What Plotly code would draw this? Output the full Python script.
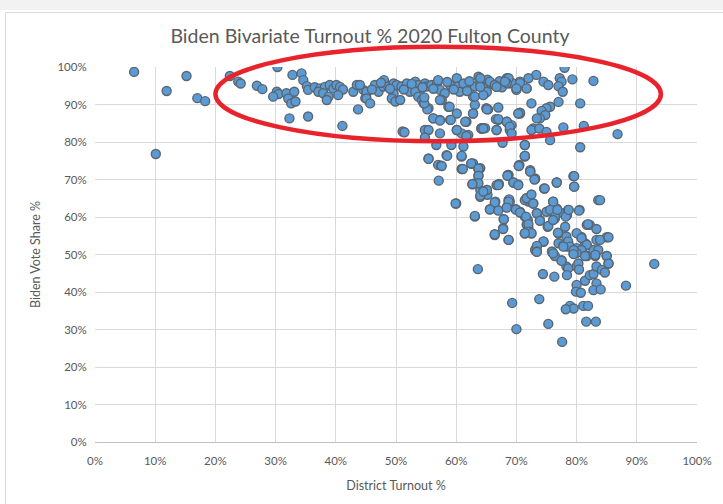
import plotly.graph_objects as go

# ---- Data (District Turnout %, Biden Vote Share %) ----
turnout_left = [6.5,10.1,11.9,15.2,17.0,18.3,22.4,23.8,24.2,26.9,27.8,30.3,32.8,34.3,34.6,35.2,35.4,
                30.2,30.5,29.6,31.8,33.1,32.1,32.6,33.3,32.3,35.4,36.5,37.4,38.2,39.0,39.6,40.1,40.7,41.2,
                37.1,37.9,38.8,38.5,40.4,42.9,43.5,44.6,45.1,44.9,41.1,43.7]
share_left = [98.7,76.8,93.6,97.6,91.7,90.9,97.6,96.1,95.6,95.0,94.1,100.0,97.9,98.3,96.5,94.9,93.9,
              93.4,92.8,92.1,93.0,93.4,91.6,90.3,90.8,86.3,86.8,94.6,94.3,94.7,95.2,94.3,95.2,94.7,94.0,
              93.4,93.0,92.1,91.2,92.5,93.4,95.2,93.9,93.0,91.7,84.3,88.7]

turnout_band = [44.0,45.1,46.5,47.1,48.0,47.9,48.7,49.6,49.6,50.1,50.9,51.8,52.3,53.2,53.7,54.0,54.8,55.1,
                55.9,56.8,57.0,57.3,58.1,59.0,60.1,60.3,60.6,62.6,63.1,63.7,64.0,64.8,65.6,66.4,66.7,68.4,
                68.7,69.5,70.0,70.6,71.7,45.1,45.7,49.3,49.9,50.7,53.2,53.7,54.3,54.6,55.4,57.6,58.7,60.1,
                62.8,63.1,62.8,65.0,56.2,57.3,59.0,61.7,64.2,67.0,68.4,69.2,70.6,51.1,54.8,57.3,60.1,60.9,
                62.0,66.7,68.9,46.0,47.5,49.0,51.3,52.6,54.4,56.2,58.5,59.6,61.2,61.8,62.2,64.5,65.2,67.2,67.6]
share_band = [95.2,93.4,95.2,93.4,96.5,94.8,94.8,95.6,93.0,95.2,94.8,95.6,93.4,96.1,95.2,93.9,95.6,94.8,
              95.2,95.6,96.5,93.9,93.0,95.2,97.0,94.8,93.4,94.8,94.8,97.4,95.6,93.0,95.6,95.2,94.8,97.0,
              95.6,95.6,93.9,96.1,94.3,91.6,90.3,91.6,90.8,91.2,93.4,92.1,91.2,90.3,89.0,91.2,89.4,87.6,
              92.1,89.9,87.6,89.0,86.3,85.9,85.9,85.4,83.6,85.9,85.4,84.5,87.6,82.8,83.2,82.3,83.2,82.3,
              81.9,83.2,83.2,94.0,95.8,94.2,94.0,95.5,94.6,94.2,96.0,94.0,95.6,93.6,96.2,94.4,96.6,96.2,94.6]

turnout_mid = [51.4,55.4,56.2,57.3,55.2,54.7,54.7,57.3,58.9,59.1,60.1,61.7,61.5,62.8,63.1,64.2,64.8,66.6,
               67.0,65.3,55.4,58.4,57.0,60.9,61.2,62.8,59.2,56.7,54.8]
share_mid = [82.6,83.2,86.3,85.7,88.7,90.3,91.9,91.2,89.4,85.9,83.2,81.6,85.4,87.6,92.1,83.7,83.7,86.1,
             89.2,88.7,75.6,76.5,73.9,76.1,78.8,74.3,79.2,79.2,81.2]

turnout_right = [78.0,82.8,79.3,77.2,77.5,77.0,77.7,73.3,72.0,74.5,75.3,70.6,71.7,70.0,68.7,68.4,68.1,65.6,
                 66.4,66.7,65.1,64.5,64.0,64.0,80.6,77.0,75.6,75.0,74.2,74.8,73.9,72.5,70.6,70.3,65.1,73.4,
                 72.8,72.5,73.8,75.0,77.8,81.2,86.8,67.0,68.4,68.9,69.2,66.7,64.2,64.5,75.6,80.6,71.4,71.4,
                 70.5,72.3,68.7,73.1,79.5,64.0,67.7]
share_right = [99.8,96.3,96.7,97.0,96.1,94.9,93.4,97.9,97.0,96.1,95.2,95.7,94.3,94.3,97.0,95.7,96.1,96.1,
               95.2,94.7,93.4,92.5,97.0,94.7,90.3,90.7,89.4,89.0,88.3,87.2,86.3,90.3,87.8,87.6,88.7,86.3,
               83.6,83.2,83.6,82.7,83.9,84.3,82.1,86.1,85.4,84.1,82.3,83.2,83.6,83.6,80.5,78.6,79.2,76.1,
               73.9,72.5,71.2,70.3,70.9,73.0,79.8]

turnout_slope = [55.4,57.5,57.1,60.0,63.1,60.9,62.5,63.7,63.7,63.4,62.7,64.0,64.0,65.1,65.2,66.5,65.6,66.9,
                 66.7,67.1,68.6,69.5,70.3,70.4,71.4,71.4,72.3,73.1,74.6,76.7,79.5,79.6,83.6,68.7,68.9,68.4,
                 69.9,70.6,71.7,72.0,72.8,71.4,71.9,71.7,72.0,72.5,71.4,73.4,73.9,75.0,75.9,76.1,76.7,77.8,
                 78.4,78.6,80.5,81.7,82.2,80.8,81.4,83.3,74.5,73.4,73.1,76.1,77.0,77.8,78.4,80.0,79.5,81.1,
                 82.8,75.2,76.4,77.0,66.4,67.8,67.9,68.7]
share_slope = [75.5,73.7,69.7,63.6,60.1,72.8,74.2,72.8,71.0,69.2,68.7,67.2,65.4,67.2,65.9,64.1,62.1,61.9,
               68.5,68.8,71.2,69.2,68.7,73.7,76.3,79.2,72.1,70.1,67.6,69.2,70.9,68.1,64.5,64.5,64.1,62.6,
               62.1,61.4,65.0,64.1,63.6,60.1,59.2,58.0,57.0,55.6,55.6,61.0,59.2,61.4,61.9,64.1,62.3,61.0,
               60.5,61.9,61.9,57.9,57.9,54.7,53.0,53.9,53.4,52.1,51.2,50.3,53.0,52.5,52.1,51.7,50.3,50.3,
               51.2,57.4,59.6,55.6,55.2,57.0,59.4,53.9]

turnout_fill = [58.5,60.9,57.6,61.1,62.5,63.7,63.7,63.7,62.7,71.4,70.4,72.3,73.0,68.5,69.5,70.3,74.7,76.7,
                79.6,79.6,83.9,80.4,59.9,63.1,65.1,64.0,64.5,66.4,67.0,68.8,68.7,71.4,71.7,72.5,72.8,65.6,
                67.0,68.4,69.9,70.6,71.6,72.0,72.1,72.5,71.4,73.4,73.9,75.3,76.1,75.6,76.4,76.8,76.1,78.2,
                78.7,78.1,76.9,78.3,78.6,78.9,80.0,80.8,81.7,81.9,83.3,85.0,83.9,85.3,83.6,85.0,85.3,83.1,
                81.7,80.8,80.0,79.5,77.8,77.5,76.4,75.9,74.5,73.4,73.4,67.8,67.9,66.4,68.7,78.3,80.0]
share_fill = [76.3,76.3,73.6,72.8,74.3,72.9,71.0,69.0,68.8,76.3,73.6,72.1,70.0,71.0,69.2,68.5,67.6,69.2,
              70.9,68.1,64.5,61.7,63.6,60.3,67.2,65.7,66.8,63.9,68.5,64.7,64.1,64.5,65.0,66.0,63.6,62.0,
              61.7,62.5,62.0,61.2,60.1,58.1,56.1,55.7,55.7,61.0,59.0,57.6,64.1,61.9,60.1,61.9,59.2,60.1,
              61.9,57.4,55.8,54.8,53.5,52.1,55.7,54.4,52.6,58.1,56.8,54.6,53.9,54.6,51.2,49.6,47.6,49.6,
              49.6,51.2,50.4,51.2,52.1,48.5,49.6,50.8,53.5,52.3,50.8,56.8,59.4,55.4,53.9,46.8,46.8]

turnout_low = [63.6,92.9,88.2,69.3,73.8,70.0,75.3,77.6,74.4,76.3,78.6,78.4,77.5,80.3,80.4,81.4,80.0,79.9,
               80.7,82.2,82.8,83.3,83.3,84.2,84.7,82.8,84.0,85.0,85.3,78.9,79.5,78.2,81.1,81.9,81.6,83.2,
               73.4,76.1,79.5,81.4,83.1]
share_low = [46.1,47.5,41.7,37.1,38.1,30.1,31.5,26.7,44.8,44.1,46.3,44.5,48.3,47.6,46.0,43.0,41.9,40.1,
             39.8,44.5,44.8,42.3,46.8,45.9,45.2,40.5,40.7,49.6,47.6,36.3,35.6,35.4,36.3,36.3,32.1,32.1,
             50.7,50.3,50.1,49.6,49.9]

x_ticks = list(range(0, 101, 10))
tick_text = [f"{v}%" for v in x_ticks]

# ellipse annotation (data units, %)
ell_cx, ell_cy, ell_rx, ell_ry = 57.0, 92.8, 37.0, 12.6

turnout = (turnout_left + turnout_band + turnout_mid + turnout_right + turnout_slope
           + turnout_fill + turnout_low)
share = share_left + share_band + share_mid + share_right + share_slope + share_fill + share_low

W, H = 723, 504
ML, MR, MT, MB = 95, 26, 67, 62

fig = go.Figure()
fig.add_trace(go.Scatter(
    x=turnout, y=share, mode="markers",
    marker=dict(size=9, color="#5B9BD5", line=dict(color="#5a6570", width=1.4)),
    hoverinfo="x+y", showlegend=False))

font = "Lato, Open Sans, sans-serif"
fig.update_layout(
    width=W, height=H, margin=dict(l=ML, r=MR, t=MT, b=MB),
    paper_bgcolor="white", plot_bgcolor="white",
    font=dict(family=font, color="#595959", size=12),
    title=dict(text="Biden Bivariate Turnout % 2020 Fulton County",
               x=370 / W, xanchor="center", xref="container",
               y=1 - 36 / H, yanchor="middle", yref="container",
               font=dict(size=19.5, color="#595959", family=font)),
    xaxis=dict(range=[0, 100], tickvals=x_ticks, ticktext=tick_text, showgrid=True,
               gridcolor="#d9d9d9", gridwidth=1, zeroline=False, showline=True,
               linecolor="#bfbfbf", linewidth=1, ticks="outside", ticklen=8,
               tickcolor="rgba(0,0,0,0)", tickfont=dict(size=11.5),
               title=dict(text="District Turnout %", font=dict(size=12.5), standoff=15)),
    yaxis=dict(range=[0, 100], tickvals=x_ticks, ticktext=tick_text, showgrid=True,
               gridcolor="#d9d9d9", gridwidth=1, zeroline=False, showline=False,
               ticks="outside", ticklen=5, tickcolor="rgba(0,0,0,0)", tickfont=dict(size=11.5),
               title=dict(text="Biden Vote Share %", font=dict(size=12.5), standoff=14)),
)

# red ellipse (paper refs so it is not clipped at the top of the plot area)
fig.add_shape(type="circle", xref="paper", yref="paper",
              x0=(ell_cx - ell_rx) / 100, x1=(ell_cx + ell_rx) / 100,
              y0=(ell_cy - ell_ry) / 100, y1=(ell_cy + ell_ry) / 100,
              line=dict(color="#E8232B", width=4.5), layer="above")

# chart frame
pw = W - ML - MR
ph = H - MT - MB
def px2paper_x(p): return (p - ML) / pw
def px2paper_y(p): return 1 - (p - MT) / ph
fig.add_shape(type="rect", xref="paper", yref="paper",
              x0=px2paper_x(0), x1=px2paper_x(W), y0=px2paper_y(0), y1=px2paper_y(10),
              fillcolor="#f2f2f2", line=dict(width=0), layer="below")
fig.add_shape(type="rect", xref="paper", yref="paper",
              x0=px2paper_x(5.5), x1=px2paper_x(W + 5), y0=px2paper_y(H + 5), y1=px2paper_y(12.5),
              fillcolor="rgba(0,0,0,0)", line=dict(color="#d9d9d9", width=1), layer="below")

fig.write_html("out.html", config={"displayModeBar": False},
               post_script="document.body.style.margin='0';document.body.style.overflow='hidden';")
